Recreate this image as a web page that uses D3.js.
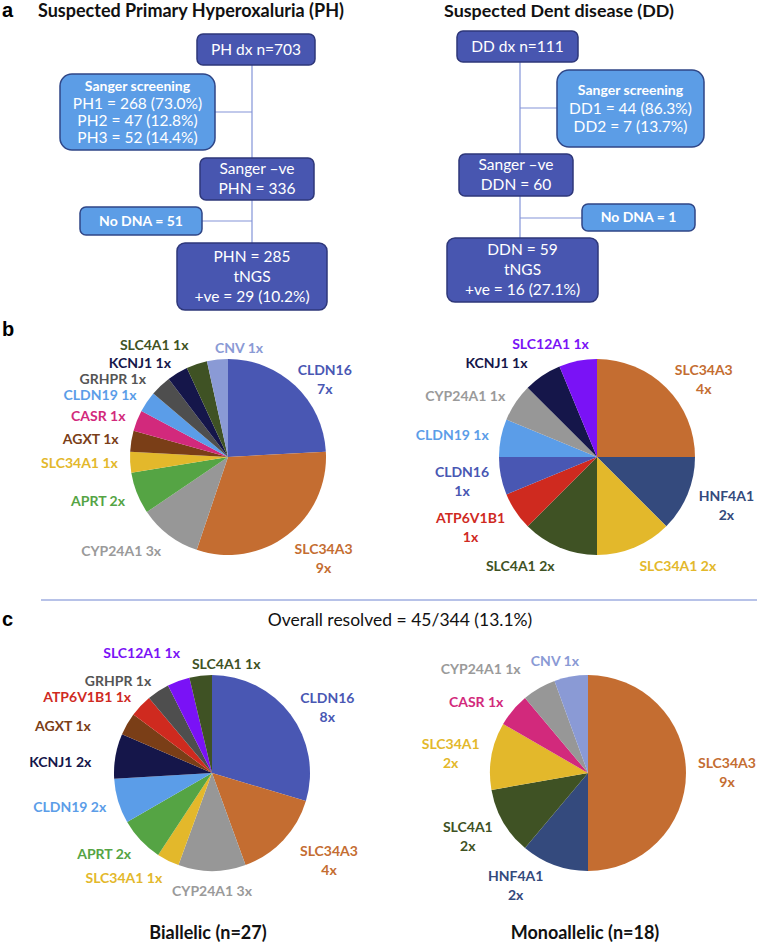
<!DOCTYPE html>
<html>
<head>
<meta charset="utf-8">
<script src="https://cdn.jsdelivr.net/npm/d3@7"></script>
<style>
  body { margin: 0; background: #fff; }
  svg { display: block; font-family: Lato, "Open Sans", sans-serif; }
  .panel-tag { font-family: "Liberation Sans", Arial, sans-serif; font-weight: bold; font-size: 20px; }
  .title { font-weight: bold; font-size: 18px; fill: #111; }
  .box-text { fill: #fff; font-size: 15.5px; }
  .box-text.bold { font-weight: bold; font-size: 14px; }
  .pie-label { font-weight: bold; font-size: 14px; }
</style>
</head>
<body>
<div id="chart"></div>
<script>
// ---- flowchart text ----
const phTitle = "Suspected Primary Hyperoxaluria (PH)";
const ddTitle = "Suspected Dent disease (DD)";
const phDx = ["PH dx n=703"];
const phSanger = ["Sanger screening", "PH1 = 268 (73.0%)", "PH2 = 47 (12.8%)", "PH3 = 52 (14.4%)"];
const phNeg = ["Sanger \u2013ve", "PHN = 336"];
const phNoDna = ["No DNA = 51"];
const phTngs = ["PHN = 285", "tNGS", "+ve = 29 (10.2%)"];
const ddDx = ["DD dx n=111"];
const ddSanger = ["Sanger screening", "DD1 = 44 (86.3%)", "DD2 = 7 (13.7%)"];
const ddNeg = ["Sanger \u2013ve", "DDN = 60"];
const ddNoDna = ["No DNA = 1"];
const ddTngs = ["DDN = 59", "tNGS", "+ve = 16 (27.1%)"];

// ---- pie data (clockwise from 12 o'clock) ----
const phGenes = ["CLDN16", "SLC34A3", "CYP24A1", "APRT", "SLC34A1", "AGXT", "CASR", "CLDN19", "GRHPR", "KCNJ1", "SLC4A1", "CNV"];
const phCounts = [7, 9, 3, 2, 1, 1, 1, 1, 1, 1, 1, 1];
const ddGenes = ["SLC34A3", "HNF4A1", "SLC34A1", "SLC4A1", "ATP6V1B1", "CLDN16", "CLDN19", "CYP24A1", "KCNJ1", "SLC12A1"];
const ddCounts = [4, 2, 2, 2, 1, 1, 1, 1, 1, 1];
const biGenes = ["CLDN16", "SLC34A3", "CYP24A1", "SLC34A1", "APRT", "CLDN19", "KCNJ1", "AGXT", "ATP6V1B1", "GRHPR", "SLC12A1", "SLC4A1"];
const biCounts = [8, 4, 3, 1, 2, 2, 2, 1, 1, 1, 1, 1];
const monoGenes = ["SLC34A3", "HNF4A1", "SLC4A1", "SLC34A1", "CASR", "CYP24A1", "CNV"];
const monoCounts = [9, 2, 2, 2, 1, 1, 1];

const overallText = "Overall resolved = 45/344 (13.1%)";
const biTitle = "Biallelic (n=27)";
const monoTitle = "Monoallelic (n=18)";

const geneColors = {
  CLDN16: "#4957b3", SLC34A3: "#c46d31", CYP24A1: "#979797", APRT: "#55a444",
  SLC34A1: "#e3b82b", AGXT: "#7a3e17", CASR: "#d2297c", CLDN19: "#5b9de8",
  GRHPR: "#4e4e4e", KCNJ1: "#15164a", SLC4A1: "#3f5224", CNV: "#8a9ad5",
  HNF4A1: "#344a7d", ATP6V1B1: "#cf2a1f", SLC12A1: "#7a12f6"
};
const labelColors = Object.assign({}, geneColors, { GRHPR: "#555555", CYP24A1: "#9a9a9a" });

const width = 759, height = 945, R = 98;
const svg = d3.select("#chart").append("svg").attr("width", width).attr("height", height);

// panel letters
svg.append("text").attr("class", "panel-tag").attr("x", 2).attr("y", 17).text("a");
svg.append("text").attr("class", "panel-tag").attr("x", 2).attr("y", 336).text("b");
svg.append("text").attr("class", "panel-tag").attr("x", 2).attr("y", 626).text("c");

// ---- flowcharts ----
function drawFlow(cfg) {
  const g = svg.append("g");
  const title = g.append("text").attr("class", "title").attr("x", cfg.titleX).attr("y", 17)
    .attr("text-anchor", "middle").text(cfg.title);
  // shrink/grow the title to the width it takes in the figure
  const len = title.node().getComputedTextLength();
  title.style("font-size", (18 * cfg.titleW / len).toFixed(2) + "px");

  // connectors
  const lc = "#8394d8";
  g.append("line").attr("x1", cfg.trunk).attr("x2", cfg.trunk).attr("y1", cfg.trunkY[0]).attr("y2", cfg.trunkY[1])
    .attr("stroke", lc).attr("stroke-width", 1.2);
  cfg.branches.forEach(b => {
    g.append("line").attr("x1", b[0]).attr("x2", cfg.trunk).attr("y1", b[1]).attr("y2", b[1])
      .attr("stroke", lc).attr("stroke-width", 1.2);
  });
  cfg.boxes.forEach(b => {
    const dark = b.kind === "dark";
    g.append("rect").attr("x", b.x).attr("y", b.y).attr("width", b.w).attr("height", b.h)
      .attr("rx", b.rx || 6)
      .attr("fill", dark ? "#4856b0" : "#5c9de6")
      .attr("stroke", dark ? "#2e3779" : "#2f4687").attr("stroke-width", 1.5);
    const lh = b.lh || 20;
    const cy = b.y + b.h / 2;
    b.lines.forEach((t, i) => {
      const bold = !dark && (i === 0);
      g.append("text").attr("class", "box-text" + (bold ? " bold" : ""))
        .attr("x", b.x + b.w / 2).attr("y", cy + (i - (b.lines.length - 1) / 2) * lh)
        .attr("dy", "0.35em").attr("text-anchor", "middle")
        .text(t);
    });
  });
}

drawFlow({
  title: phTitle, titleX: 191, titleW: 306, trunk: 252, trunkY: [65, 243],
  branches: [[215, 112], [202, 221]],
  boxes: [
    { kind: "dark", x: 197, y: 34, w: 118, h: 31, lines: phDx },
    { kind: "light", x: 60, y: 74, w: 155, h: 76, rx: 12, lh: 17.3, lines: phSanger },
    { kind: "dark", x: 200, y: 158, w: 114, h: 42, lines: phNeg },
    { kind: "light", x: 80, y: 207, w: 122, h: 28, lines: phNoDna },
    { kind: "dark", x: 177, y: 243, w: 150, h: 67, rx: 8, lines: phTngs }
  ]
});
drawFlow({
  title: ddTitle, titleX: 559, titleW: 230, trunk: 520, trunkY: [62, 238],
  branches: [[557, 108], [582, 218]],
  boxes: [
    { kind: "dark", x: 457, y: 31, w: 121, h: 31, lines: ddDx },
    { kind: "light", x: 557, y: 70, w: 147, h: 77, rx: 12, lh: 18, lines: ddSanger },
    { kind: "dark", x: 459, y: 154, w: 114, h: 42, lines: ddNeg },
    { kind: "light", x: 582, y: 204, w: 113, h: 27, lines: ddNoDna },
    { kind: "dark", x: 447, y: 238, w: 151, h: 64, rx: 8, lines: ddTngs }
  ]
});

// divider
svg.append("line").attr("x1", 41).attr("x2", 757).attr("y1", 600).attr("y2", 600)
  .attr("stroke", "#b7c2e8").attr("stroke-width", 2);

svg.append("text").attr("x", 400).attr("y", 626).attr("text-anchor", "middle")
  .style("font-size", "17.5px").attr("fill", "#111").text(overallText);

// ---- pies ----
function drawPie(cx, cy, genes, counts, wrapped, nudges) {
  const g = svg.append("g").attr("transform", `translate(${cx},${cy})`);
  const data = genes.map((d, i) => ({ gene: d, count: counts[i] }));
  const arcs = d3.pie().sort(null).value(d => d.count)(data);
  const arc = d3.arc().innerRadius(0).outerRadius(R);
  g.selectAll("path.slice").data(arcs).join("path").attr("class", "slice")
    .attr("d", arc).attr("fill", d => geneColors[d.data.gene]);

  const gap = 12, lh = 19;
  arcs.forEach(a => {
    const mid = (a.startAngle + a.endAngle) / 2;
    const dx = Math.sin(mid), dy = -Math.cos(mid);
    const lines = wrapped.includes(a.data.gene)
      ? [a.data.gene, a.data.count + "x"]
      : [a.data.gene + " " + a.data.count + "x"];
    const t = g.append("text").attr("class", "pie-label")
      .attr("fill", labelColors[a.data.gene]).attr("text-anchor", "middle");
    lines.forEach((l, i) => {
      t.append("tspan").attr("x", 0).attr("y", (i - (lines.length - 1) / 2) * lh)
        .attr("dy", "0.35em").text(l);
    });
    const w = t.node().getBBox().width;
    const h = lines.length * lh - 3;
    let px = dx * (R + gap), py = dy * (R + gap) + Math.max(0, dy) * h / 2;
    if (dx > 0.3) px += w / 2;
    else if (dx < -0.3) px -= w / 2;
    const n = nudges[a.data.gene] || [0, 0];
    t.attr("transform", `translate(${px + n[0]},${py + n[1]})`);
  });
}

drawPie(228, 457, phGenes, phCounts, ["CLDN16", "SLC34A3"], { CNV: [23, 0], CLDN16: [-6, 2], SLC4A1: [-4, -8], GRHPR: [-6, 2] });
drawPie(597, 457, ddGenes, ddCounts, ["SLC34A3", "HNF4A1", "CLDN16", "ATP6V1B1"], { SLC12A1: [-25, -5], KCNJ1: [-8, -2] });
drawPie(212, 773, biGenes, biCounts, ["CLDN16", "SLC34A3"], { AGXT: [-25, 8], SLC12A1: [6, -17], SLC4A1: [27, 0], KCNJ1: [-12, 8], SLC34A3: [8, 0] });
drawPie(588, 773, monoGenes, monoCounts, ["SLC34A3", "HNF4A1", "SLC4A1", "SLC34A1"], { CYP24A1: [-12, -9], CNV: [-14, -4], HNF4A1: [-7, -7] });

svg.append("text").attr("x", 208).attr("y", 939).attr("text-anchor", "middle")
  .style("font-size", "18px").style("font-weight", "bold").attr("fill", "#111").text(biTitle);
svg.append("text").attr("x", 585).attr("y", 939).attr("text-anchor", "middle")
  .style("font-size", "18px").style("font-weight", "bold").attr("fill", "#111").text(monoTitle);
</script>
</body>
</html>
